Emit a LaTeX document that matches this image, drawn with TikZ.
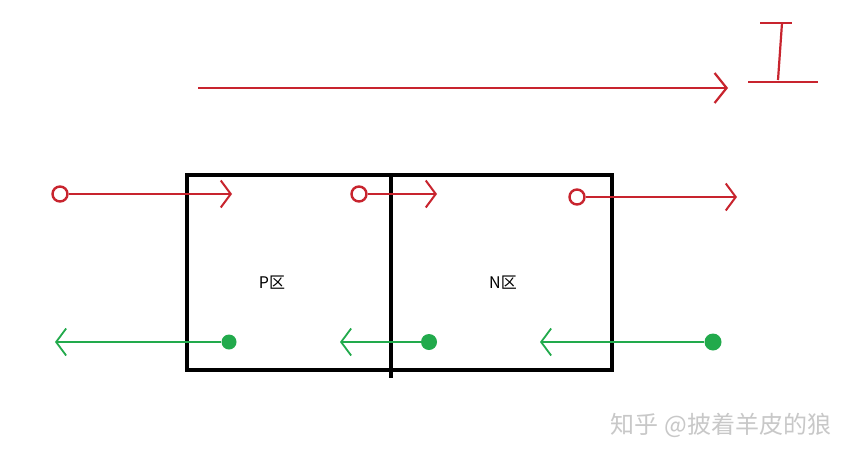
\documentclass[tikz,border=0pt]{standalone}
\usepackage{fontspec}
\newfontfamily\cjk{Noto Sans CJK SC}
\usetikzlibrary{arrows.meta}
\definecolor{hred}{RGB}{200,36,46}
\definecolor{hgreen}{RGB}{34,170,76}
\definecolor{wmgray}{RGB}{200,200,200}
\tikzset{
  redline/.style={draw=hred, line width=2.2pt, -{Straight Barb[length=10pt,width=27pt,line width=2pt]}},
  greenline/.style={draw=hgreen, line width=2pt, -{Straight Barb[length=10pt,width=27pt,line width=1.8pt]}},
  hole/.style={circle, draw=hred, line width=2.4pt, fill=white, minimum size=15pt, inner sep=0pt},
  electron/.style={circle, fill=hgreen, minimum size=15pt, inner sep=0pt},
  region/.style={font=\cjk\fontsize{16pt}{16pt}\selectfont, inner sep=0pt},
  boxline/.style={draw=black, line width=4.5pt},
}
\begin{document}
\begin{tikzpicture}[x=1pt,y=-1pt]
\useasboundingbox[fill=white] (0,0) rectangle (861,458);
% box
\draw[boxline] (187,175) rectangle (612,370);
\coordinate (divtop) at (391,175);
\coordinate (divbot) at (391,378);
\draw[draw=black, line width=3.2pt] (divtop) -- (divbot);
% current arrow and I
\coordinate (cs) at (198,88);
\coordinate (ce) at (728,88);
\draw[redline, line width=2.4pt, -{Straight Barb[length=12pt,width=30pt,line width=2.2pt]}] (cs) -- (ce);
\coordinate (it1) at (760,23); \coordinate (it2) at (792,23);
\coordinate (iv1) at (782,23); \coordinate (iv2) at (778,80);
\coordinate (ib1) at (748,82); \coordinate (ib2) at (818,82);
\draw[draw=hred, line width=2.2pt] (it1) -- (it2);
\draw[draw=hred, line width=2.2pt] (iv1) -- (iv2);
\draw[draw=hred, line width=2.2pt] (ib1) -- (ib2);
% holes
\node[hole] (h1) at (60,194) {};
\node[hole] (h2) at (359,194) {};
\node[hole] (h3) at (577,197) {};
\coordinate (t1) at (232,194);
\coordinate (t2) at (437,194);
\coordinate (t3) at (737,197);
\draw[redline] (h1) -- (t1);
\draw[redline] (h2) -- (t2);
\draw[redline, line width=1.7pt] (h3) -- (t3);
% electrons
\node[electron] (e1) at (229,342) {};
\node[electron, minimum size=16pt] (e2) at (429,342) {};
\node[electron, minimum size=17pt] (e3) at (713,342) {};
\coordinate (g1) at (55,342);
\coordinate (g2) at (340,342);
\coordinate (g3) at (540,342);
\draw[greenline, line width=1.7pt] (e1) -- (g1);
\draw[greenline, line width=2.6pt] (e2) -- (g2);
\draw[greenline, line width=2.6pt] (e3) -- (g3);
% labels
\node[region] (P) at (272,283) {P区};
\node[region] (N) at (503,283) {N区};
% watermark
\node[font=\cjk\fontsize{24pt}{24pt}\selectfont, text=wmgray, inner sep=0pt] (wm) at (721,425) {知乎 @披着羊皮的狼};
\end{tikzpicture}
\end{document}
